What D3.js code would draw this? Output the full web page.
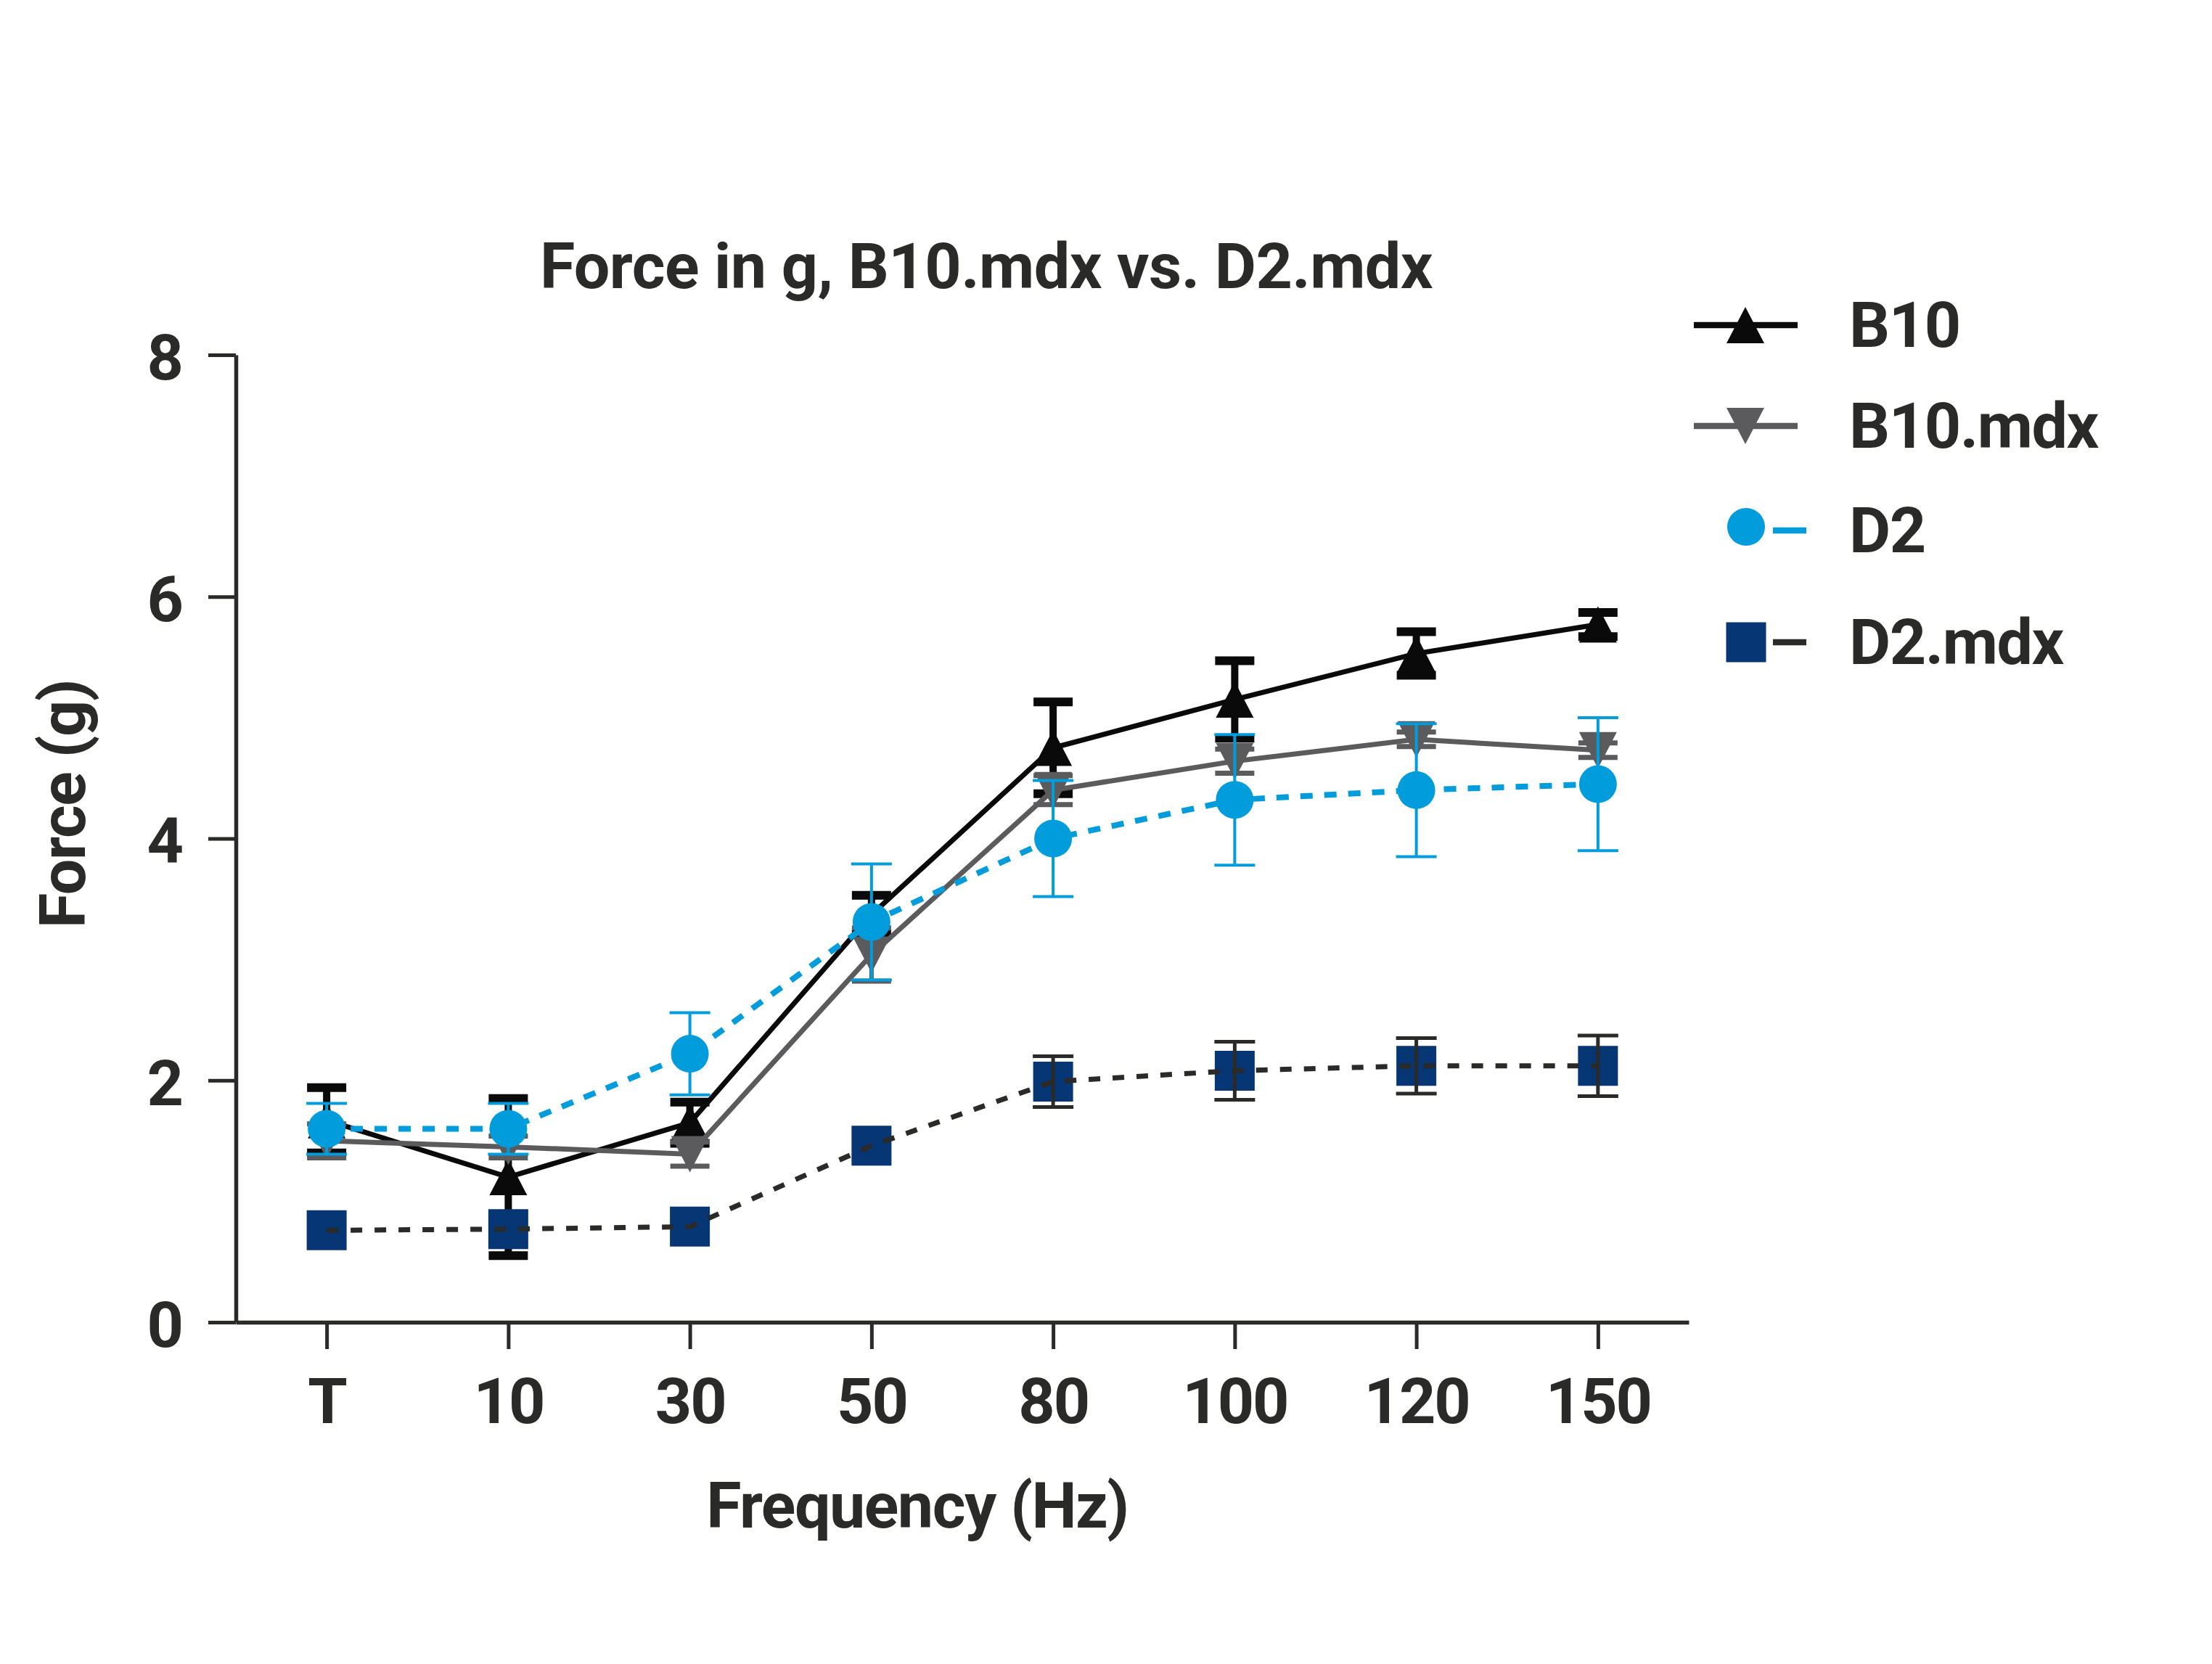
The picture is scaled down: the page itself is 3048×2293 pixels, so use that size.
<!DOCTYPE html>
<html>
<head>
<meta charset="utf-8">
<script src="https://cdn.jsdelivr.net/npm/d3@7"></script>
<style>
  html, body { margin: 0; padding: 0; background: #ffffff; }
  svg { display: block; }
  text { font-family: Roboto, "Liberation Sans", sans-serif; font-weight: 700; fill: #2a2a28; letter-spacing: -1.5px; }
</style>
</head>
<body>
<script>
// ---------------- DATA ----------------
const categories = ["T", "10", "30", "50", "80", "100", "120", "150"];
const yTickValues = [0, 2, 4, 6, 8];
const seriesNames = ["B10", "B10.mdx", "D2", "D2.mdx"];

const b10Mean    = [1.67, 1.20, 1.65, 3.37, 4.75, 5.15, 5.53, 5.77];
const b10Err     = [0.27, 0.65, 0.17, 0.16, 0.38, 0.32, 0.18, 0.10];
const b10mdxMean = [1.50, 1.45, 1.39, 3.04, 4.40, 4.64, 4.82, 4.73];
const b10mdxErr  = [0.14, 0.09, 0.10, 0.22, 0.12, 0.10, 0.06, 0.06];
const d2Mean     = [1.60, 1.60, 2.22, 3.31, 4.00, 4.32, 4.40, 4.45];
const d2Err      = [0.21, 0.21, 0.34, 0.48, 0.48, 0.54, 0.55, 0.55];
const d2mdxMean  = [0.76, 0.77, 0.79, 1.46, 1.99, 2.08, 2.12, 2.12];
const d2mdxErr   = [0.00, 0.00, 0.00, 0.00, 0.21, 0.24, 0.23, 0.25];

const titleText = "Force in g, B10.mdx vs. D2.mdx";
const xTitle = "Frequency (Hz)";
const yTitle = "Force (g)";

// ---------------- STYLE ----------------
const W = 3048, H = 2293;
const INK = "#2a2a28";
const styles = [
  { name: seriesNames[0], mean: b10Mean,    err: b10Err,    color: "#0a0a0a", lw: 7, dash: null,    shape: "up",     fill: "#0a0a0a", ew: 10, capW: 54, capT: 12 },
  { name: seriesNames[1], mean: b10mdxMean, err: b10mdxErr, color: "#5b5b5d", lw: 7, dash: null,    shape: "down",   fill: "#5b5b5d", ew: 6,  capW: 54, capT: 7 },
  { name: seriesNames[2], mean: d2Mean,     err: d2Err,     color: "#009cdb", lw: 8, dash: "17,16", shape: "circle", fill: "#009cdb", ew: 4,  capW: 56, capT: 4 },
  { name: seriesNames[3], mean: d2mdxMean,  err: d2mdxErr,  color: "#2a2a28", lw: 7, dash: "16,17", shape: "square", fill: "#063673", ew: 5,  capW: 56, capT: 5 }
];

const x = d3.scalePoint().domain(categories).range([325, 2327]).padding(0.5);
const y = d3.scaleLinear().domain([0, 8]).range([1822, 489]);

const svg = d3.select("body").append("svg").attr("width", W).attr("height", H);
svg.append("rect").attr("width", W).attr("height", H).attr("fill", "#fff");

function markerPath(shape) {
  const tw = 52, th = 50, r = 26, s = 55;
  if (shape === "up") return `M0,${-th/2}L${tw/2},${th/2}L${-tw/2},${th/2}Z`;
  if (shape === "down") return `M0,${th/2}L${tw/2},${-th/2}L${-tw/2},${-th/2}Z`;
  if (shape === "circle") return `M${r},0A${r},${r} 0 1,1 ${-r},0A${r},${r} 0 1,1 ${r},0Z`;
  return `M${-s/2},${-s/2}H${s/2}V${s/2}H${-s/2}Z`;
}

// ---------------- AXES ----------------
const yAxis = svg.append("g").attr("transform", "translate(325,0)")
  .call(d3.axisLeft(y).tickValues(yTickValues).tickSize(38).tickSizeOuter(0).tickPadding(36));
const xAxis = svg.append("g").attr("transform", "translate(0,1822)")
  .call(d3.axisBottom(x).tickSize(37).tickSizeOuter(0).tickPadding(40));
[yAxis, xAxis].forEach(g => {
  g.select(".domain").attr("stroke", INK).attr("stroke-width", 5.5);
  g.selectAll(".tick line").attr("stroke", INK).attr("stroke-width", 5);
  g.selectAll(".tick text").attr("font-size", 88).attr("fill", INK)
    .style("font-family", "Roboto, 'Liberation Sans', sans-serif").style("font-weight", 700)
    .style("letter-spacing", "-2px");
});
yAxis.selectAll(".tick text").attr("dy", "0.38em");

// ---------------- SERIES ----------------
const plot = svg.append("g");
styles.forEach(st => {
  const pts = categories.map((c, i) => ({ c, v: st.mean[i], e: st.err[i] }));
  const g = plot.append("g");
  g.selectAll("path.mk").data(pts).enter().append("path")
    .attr("class", "mk")
    .attr("d", markerPath(st.shape))
    .attr("transform", d => `translate(${x(d.c)},${y(d.v)})`)
    .attr("fill", st.fill);
  const eb = g.selectAll("g.eb").data(pts.filter(d => d.e > 0)).enter().append("g").attr("class", "eb");
  eb.append("line")
    .attr("x1", d => x(d.c)).attr("x2", d => x(d.c))
    .attr("y1", d => y(d.v + d.e)).attr("y2", d => y(d.v - d.e))
    .attr("stroke", st.color).attr("stroke-width", st.ew);
  [1, -1].forEach(sign => {
    eb.append("line")
      .attr("x1", d => x(d.c) - st.capW / 2).attr("x2", d => x(d.c) + st.capW / 2)
      .attr("y1", d => y(d.v + sign * d.e)).attr("y2", d => y(d.v + sign * d.e))
      .attr("stroke", st.color).attr("stroke-width", st.capT);
  });
  g.append("path").datum(pts)
    .attr("d", d3.line().x(d => x(d.c)).y(d => y(d.v)))
    .attr("fill", "none").attr("stroke", st.color).attr("stroke-width", st.lw)
    .attr("stroke-dasharray", st.dash);
});

// ---------------- TITLES ----------------
svg.append("text").attr("x", 1359).attr("y", 397).attr("text-anchor", "middle")
  .attr("font-size", 88).style("letter-spacing", "-0.6px").text(titleText);
svg.append("text").attr("x", 1264).attr("y", 2105).attr("text-anchor", "middle")
  .attr("font-size", 88).text(xTitle);
svg.append("text").attr("transform", "translate(117,1108) rotate(-90)").attr("text-anchor", "middle")
  .attr("font-size", 88).text(yTitle);

// ---------------- LEGEND ----------------
const legRows = [448, 587, 731, 885];
const leg = svg.append("g");
styles.forEach((st, i) => {
  const cy = legRows[i];
  const r = leg.append("g");
  if (st.shape === "up" || st.shape === "down") {
    r.append("line").attr("x1", 2334).attr("x2", 2477).attr("y1", cy).attr("y2", cy)
      .attr("stroke", st.color).attr("stroke-width", 8.5);
    r.append("path").attr("d", markerPath(st.shape)).attr("transform", `translate(2405,${cy})`).attr("fill", st.fill);
  } else {
    r.append("path").attr("d", markerPath(st.shape)).attr("transform", `translate(2406,${cy - (st.shape === "circle" ? 5 : 0)})`).attr("fill", st.fill);
    r.append("line").attr("x1", 2443).attr("x2", 2489).attr("y1", cy).attr("y2", cy)
      .attr("stroke", st.color).attr("stroke-width", 8.5);
  }
  r.append("text").attr("x", 2548).attr("y", cy + 30).attr("font-size", 88).text(st.name);
});
</script>
</body>
</html>
